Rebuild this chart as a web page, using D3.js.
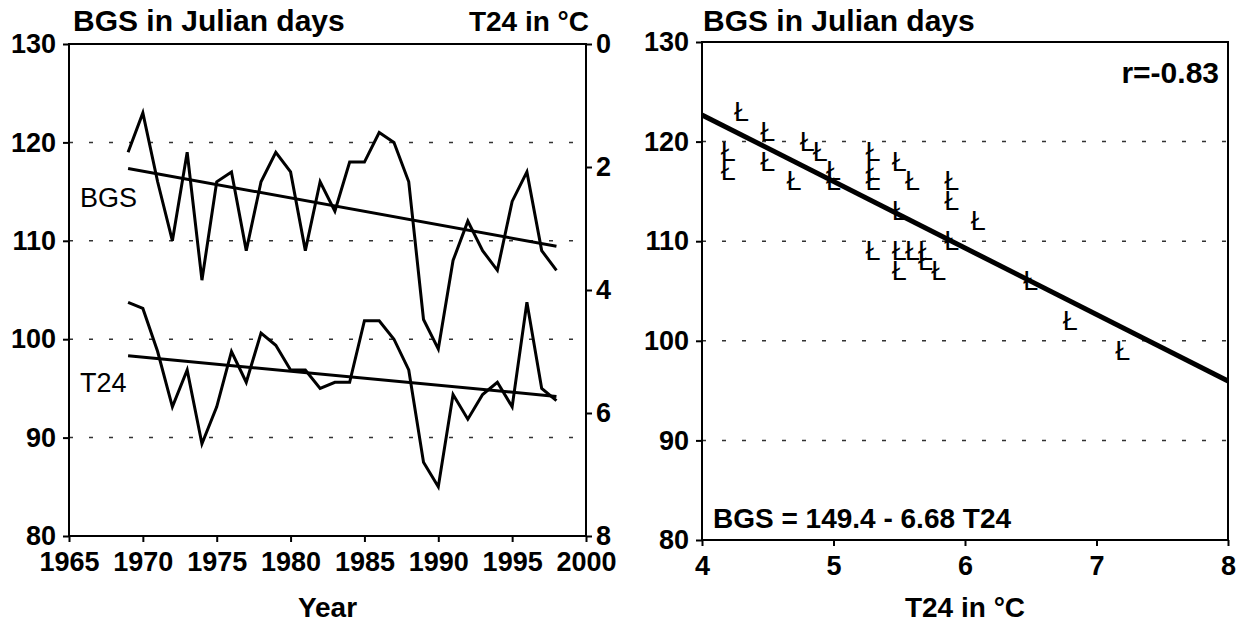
<!DOCTYPE html>
<html>
<head>
<meta charset="utf-8">
<title>BGS vs T24</title>
<script src="https://cdn.jsdelivr.net/npm/d3@7"></script>
<style>
body { margin: 0; background: #fff; }
svg text { font-family: "Liberation Sans", Arial, sans-serif; fill: #000; }
.axis text { font-weight: bold; font-size: 27px; }
.axis line, .axis path { stroke: #000; stroke-width: 2px; }
.grid line { stroke: #333; stroke-width: 1.5px; stroke-dasharray: 4,16; }
.title { font-weight: bold; font-size: 30px; }
.label { font-weight: bold; font-size: 28px; }
.mark { font-family: "Liberation Sans", Arial, sans-serif; font-size: 27px; }
</style>
</head>
<body>
<svg width="1242" height="632"></svg>
<script>
// data
var years = [1969,1970,1971,1972,1973,1974,1975,1976,1977,1978,
             1979,1980,1981,1982,1983,1984,1985,1986,1987,1988,
             1989,1990,1991,1992,1993,1994,1995,1996,1997,1998];
var bgs = [119,123,116,110,119,106,116,117,109,116,
           119,117,109,116,113,118,118,121,120,116,
           102,99,108,112,109,107,114,117,109,107];
var t24 = [4.2,4.3,5.0,5.9,5.3,6.5,5.9,5.0,5.5,4.7,
           4.9,5.3,5.3,5.6,5.5,5.5,4.5,4.5,4.8,5.3,
           6.8,7.2,5.7,6.1,5.7,5.5,5.9,4.2,5.6,5.8];

var yearTicks = [1965,1970,1975,1980,1985,1990,1995,2000];
var bgsTicks = [80,90,100,110,120,130];
var t24Ticks = [0,2,4,6,8];
var tempTicks = [4,5,6,7,8];
var gridVals = [90,100,110,120];

// printed regression of the scatter
var fitA = 149.4, fitB = -6.68, fitR = -0.83;

var svg = d3.select("svg");

function linfit(xs, ys) {
    var mx = d3.mean(xs), my = d3.mean(ys);
    var sxy = d3.sum(xs, function(v, i) { return (v - mx) * (ys[i] - my); });
    var sxx = d3.sum(xs, function(v) { return (v - mx) * (v - mx); });
    var b = sxy / sxx;
    return function(v) { return my + b * (v - mx); };
}

// ---------- left: time series ----------
var x = d3.scaleLinear().domain([1965, 2000]).range([69, 586]);
var yB = d3.scaleLinear().domain([80, 130]).range([536, 44]);
var yT = d3.scaleLinear().domain([0, 8]).range([44, 536]);

svg.append("g").attr("class", "grid")
    .selectAll("line").data(gridVals).enter().append("line")
    .attr("x1", x(1965)).attr("x2", x(2000))
    .attr("y1", function(d) { return yB(d); })
    .attr("y2", function(d) { return yB(d); });

svg.append("rect")
    .attr("x", x(1965)).attr("y", yB(130))
    .attr("width", x(2000) - x(1965)).attr("height", yB(80) - yB(130))
    .attr("fill", "none").attr("stroke", "#000").attr("stroke-width", 2);

svg.append("g").attr("class", "axis")
    .attr("transform", "translate(" + x(1965) + ",0)")
    .call(d3.axisLeft(yB).tickValues(bgsTicks).tickSize(6).tickSizeOuter(0).tickPadding(7))
    .select(".domain").remove();

svg.append("g").attr("class", "axis")
    .attr("transform", "translate(" + x(2000) + ",0)")
    .call(d3.axisRight(yT).tickValues(t24Ticks).tickSize(6).tickSizeOuter(0).tickPadding(4))
    .select(".domain").remove();

svg.append("g").attr("class", "axis")
    .attr("transform", "translate(0," + yB(80) + ")")
    .call(d3.axisBottom(x).tickValues(yearTicks).tickFormat(d3.format("d")).tickSize(6).tickSizeOuter(0).tickPadding(10))
    .select(".domain").remove();

var bgsLine = d3.line()
    .x(function(d, i) { return x(years[i]); })
    .y(function(d) { return yB(d); });
var t24Line = d3.line()
    .x(function(d, i) { return x(years[i]); })
    .y(function(d) { return yT(d); });

svg.append("path").datum(bgs).attr("d", bgsLine)
    .attr("fill", "none").attr("stroke", "#000").attr("stroke-width", 3);
svg.append("path").datum(t24).attr("d", t24Line)
    .attr("fill", "none").attr("stroke", "#000").attr("stroke-width", 3);

// trend lines
var fB = linfit(years, bgs), fT = linfit(years, t24);
var ends = [years[0], years[years.length - 1]];
svg.append("line")
    .attr("x1", x(ends[0])).attr("y1", yB(fB(ends[0])))
    .attr("x2", x(ends[1])).attr("y2", yB(fB(ends[1])))
    .attr("stroke", "#000").attr("stroke-width", 3);
svg.append("line")
    .attr("x1", x(ends[0])).attr("y1", yT(fT(ends[0])))
    .attr("x2", x(ends[1])).attr("y2", yT(fT(ends[1])))
    .attr("stroke", "#000").attr("stroke-width", 3);

svg.append("text").attr("x", 80).attr("y", 207).attr("font-size", 27).text("BGS");
svg.append("text").attr("x", 80).attr("y", 392).attr("font-size", 27).text("T24");

svg.append("text").attr("class", "title").attr("x", 73).attr("y", 31).text("BGS in Julian days");
svg.append("text").attr("class", "label").attr("x", 589).attr("y", 31)
    .attr("text-anchor", "end").text("T24 in °C");
svg.append("text").attr("class", "label").attr("x", (x(1965) + x(2000)) / 2).attr("y", 617)
    .attr("text-anchor", "middle").text("Year");

// ---------- right: scatter ----------
var xs = d3.scaleLinear().domain([4, 8]).range([702, 1228]);
var ys = d3.scaleLinear().domain([80, 130]).range([540, 42]);

svg.append("g").attr("class", "grid")
    .selectAll("line").data(gridVals).enter().append("line")
    .attr("x1", xs(4)).attr("x2", xs(8))
    .attr("y1", function(d) { return ys(d); })
    .attr("y2", function(d) { return ys(d); });

svg.append("rect")
    .attr("x", xs(4)).attr("y", ys(130))
    .attr("width", xs(8) - xs(4)).attr("height", ys(80) - ys(130))
    .attr("fill", "none").attr("stroke", "#000").attr("stroke-width", 2);

svg.append("g").attr("class", "axis")
    .attr("transform", "translate(" + xs(4) + ",0)")
    .call(d3.axisLeft(ys).tickValues(bgsTicks).tickSize(6).tickSizeOuter(0).tickPadding(7))
    .select(".domain").remove();

svg.append("g").attr("class", "axis")
    .attr("transform", "translate(0," + ys(80) + ")")
    .call(d3.axisBottom(xs).tickValues(tempTicks).tickFormat(d3.format("d")).tickSize(6).tickSizeOuter(0).tickPadding(10))
    .select(".domain").remove();

svg.append("g").selectAll("text").data(bgs).enter().append("text")
    .attr("class", "mark")
    .attr("x", function(d, i) { return xs(t24[i]); })
    .attr("y", function(d) { return ys(d); })
    .attr("text-anchor", "middle")
    .attr("dominant-baseline", "central")
    .text("Ł");

svg.append("line")
    .attr("x1", xs(4)).attr("y1", ys(fitA + fitB * 4))
    .attr("x2", xs(8)).attr("y2", ys(fitA + fitB * 8))
    .attr("stroke", "#000").attr("stroke-width", 5);

svg.append("text").attr("class", "title").attr("x", 703).attr("y", 31).text("BGS in Julian days");
svg.append("text").attr("class", "title").attr("x", 1219).attr("y", 83)
    .attr("text-anchor", "end").text("r=" + fitR.toFixed(2));
svg.append("text").attr("class", "label").attr("x", 713).attr("y", 528)
    .text("BGS = " + fitA + " - " + (-fitB) + " T24");
svg.append("text").attr("class", "label").attr("x", (xs(4) + xs(8)) / 2).attr("y", 617)
    .attr("text-anchor", "middle").text("T24 in °C");
</script>
</body>
</html>
